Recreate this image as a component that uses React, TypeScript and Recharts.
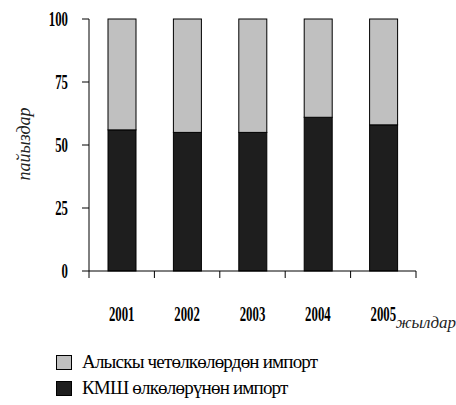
import { BarChart, Bar, XAxis, YAxis, Customized } from "recharts";

const years = ["2001", "2002", "2003", "2004", "2005"];
const cisImport = [56, 55, 55, 61, 58];
const farImport = [44, 45, 45, 39, 42];
const yTicks = [0, 25, 50, 75, 100];

const farName = "Алыскы четөлкөлөрдөн импорт";
const cisName = "КМШ өлкөлөрүнөн импорт";
const yTitle = "пайыздар";
const xTitle = "жылдар";

const DARK = "#1e1e1e";
const LIGHT = "#c0c0c0";
const SERIF = "Liberation Serif, serif";

const data = years.map((year, i) => ({
  year,
  cis: cisImport[i],
  far: farImport[i],
}));

const numStyle = { fontFamily: SERIF, fontWeight: "bold" as const, fontSize: 20 };

function YTick(props: any) {
  const { x, y, payload } = props;
  return (
    <text
      transform={`translate(${x},${y}) scale(0.64,1)`}
      textAnchor="end"
      dy="0.355em"
      style={numStyle}
      fill="#000"
    >
      {payload.value}
    </text>
  );
}

// year label at band centre, tick marks at the band edges
function XTick(props: any) {
  const { x, y, payload } = props;
  const half = typeof payload.offset === "number" ? payload.offset : null;
  const isLast = payload.value === years[years.length - 1];
  return (
    <g>
      {half !== null && <line x1={x - half} x2={x - half} y1={y} y2={y + 7} stroke="#000" />}
      {half !== null && isLast && <line x1={x + half} x2={x + half} y1={y} y2={y + 7} stroke="#000" />}
      <text
        transform={`translate(${x},${y + 50}) scale(0.64,1)`}
        textAnchor="middle"
        style={numStyle}
        fill="#000"
      >
        {payload.value}
      </text>
    </g>
  );
}

// outlined bar segment
function OutlinedBar(props: any) {
  const { x, y, width, height, fill } = props;
  if (!width || !height) return null;
  return <rect x={x} y={y} width={width} height={height} fill={fill} stroke="#000" strokeWidth={1} />;
}

const legendItems = [
  { name: farName, color: LIGHT },
  { name: cisName, color: DARK },
];

function Extras() {
  return (
    <g>
      <text
        transform="translate(24,144) rotate(-90)"
        textAnchor="middle"
        dominantBaseline="central"
        style={{ fontFamily: SERIF, fontStyle: "italic", fontSize: 18 }}
        fill="#222"
      >
        {yTitle}
      </text>
      <text
        x={456}
        y={328}
        textAnchor="end"
        style={{ fontFamily: SERIF, fontStyle: "italic", fontSize: 17 }}
        fill="#222"
      >
        {xTitle}
      </text>
      {legendItems.map((it, i) => (
        <g key={it.name}>
          <rect x={56.5} y={355.5 + i * 26} width={15} height={14} fill={it.color} stroke="#000" />
          <text
            x={82}
            y={368 + i * 26}
            style={{ fontFamily: SERIF, fontSize: 19, letterSpacing: -0.8 }}
            fill="#000"
          >
            {it.name}
          </text>
        </g>
      ))}
    </g>
  );
}

export default function App() {
  return (
    <div style={{ position: "absolute", left: 0, top: 0, width: 456, height: 405, background: "#fff" }}>
      <BarChart
        width={456}
        height={405}
        data={data}
        margin={{ top: 19, right: 40, left: 0, bottom: 84 }}
      >
        <XAxis
          dataKey="year"
          height={50}
          tickLine={false}
          tickSize={0}
          tickMargin={0}
          stroke="#000"
          interval={0}
          tick={XTick}
        />
        <YAxis
          width={89}
          domain={[0, 100]}
          ticks={yTicks}
          tickSize={7}
          tickMargin={14}
          stroke="#000"
          tick={YTick}
        />
        <Bar dataKey="cis" stackId="a" fill={DARK} barSize={28} shape={OutlinedBar} isAnimationActive={false} />
        <Bar dataKey="far" stackId="a" fill={LIGHT} barSize={28} shape={OutlinedBar} isAnimationActive={false} />
        <Customized component={Extras} />
      </BarChart>
    </div>
  );
}
